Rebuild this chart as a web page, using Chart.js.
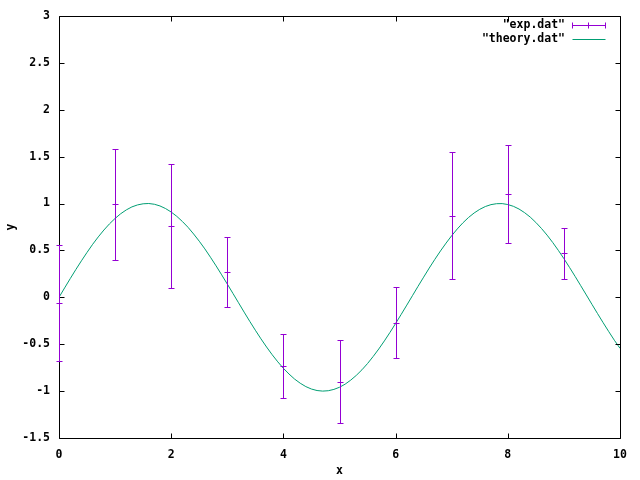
<!DOCTYPE html>
<html>
<head>
<meta charset="utf-8">
<script src="https://cdn.jsdelivr.net/npm/chart.js@4"></script>
<style>
html,body{margin:0;padding:0;background:#fff;}
canvas{display:block;}
</style>
</head>
<body>
<canvas id="c" width="640" height="480"></canvas>
<script>
// experimental data with error bars
const expX   = [0, 1, 2, 3, 4, 5, 6, 7, 8, 9];
const expY   = [-0.06, 0.99, 0.76, 0.27, -0.73, -0.90, -0.27, 0.87, 1.10, 0.47];
const expErr = [0.62, 0.59, 0.66, 0.37, 0.34, 0.44, 0.38, 0.68, 0.52, 0.27];

// theory curve
const theoryX = [0.0,0.1,0.2,0.3,0.4,0.5,0.6,0.7,0.8,0.9,1.0,1.1,1.2,1.3,1.4,1.5,1.6,1.7,1.8,1.9,
  2.0,2.1,2.2,2.3,2.4,2.5,2.6,2.7,2.8,2.9,3.0,3.1,3.2,3.3,3.4,3.5,3.6,3.7,3.8,3.9,
  4.0,4.1,4.2,4.3,4.4,4.5,4.6,4.7,4.8,4.9,5.0,5.1,5.2,5.3,5.4,5.5,5.6,5.7,5.8,5.9,
  6.0,6.1,6.2,6.3,6.4,6.5,6.6,6.7,6.8,6.9,7.0,7.1,7.2,7.3,7.4,7.5,7.6,7.7,7.8,7.9,
  8.0,8.1,8.2,8.3,8.4,8.5,8.6,8.7,8.8,8.9,9.0,9.1,9.2,9.3,9.4,9.5,9.6,9.7,9.8,9.9,10.0];
const theoryY = [0.000,0.100,0.199,0.296,0.389,0.479,0.565,0.644,0.717,0.783,
  0.841,0.891,0.932,0.964,0.985,0.997,1.000,0.992,0.974,0.946,
  0.909,0.863,0.808,0.746,0.675,0.598,0.516,0.427,0.335,0.239,
  0.141,0.042,-0.058,-0.158,-0.256,-0.351,-0.443,-0.530,-0.612,-0.688,
  -0.757,-0.818,-0.872,-0.916,-0.952,-0.978,-0.994,-1.000,-0.996,-0.982,
  -0.959,-0.926,-0.883,-0.832,-0.773,-0.706,-0.631,-0.551,-0.465,-0.374,
  -0.279,-0.182,-0.083,0.017,0.117,0.215,0.312,0.405,0.494,0.578,
  0.657,0.729,0.794,0.851,0.899,0.938,0.968,0.988,0.998,0.999,
  0.989,0.970,0.941,0.902,0.855,0.798,0.734,0.663,0.585,0.501,
  0.412,0.319,0.223,0.124,0.025,-0.075,-0.174,-0.271,-0.366,-0.458,-0.544];

const seriesNames = ['"exp.dat"', '"theory.dat"'];
const xTicks = [0, 2, 4, 6, 8, 10];
const yTicks = [-1.5, -1, -0.5, 0, 0.5, 1, 1.5, 2, 2.5, 3];

const PURPLE = '#9400d3';
const GREEN = '#009e73';
const FONT = 'bold 11.5px "DejaVu Sans Mono", "Liberation Mono", monospace';
const TFONT = {family: '"DejaVu Sans Mono", monospace', size: 11.5, weight: 'bold'};

const gnuplotDecor = {
  id: 'gnuplotDecor',
  afterDatasetsDraw(chart) {
    const ctx = chart.ctx;
    const xs = chart.scales.x, ys = chart.scales.y;
    const a = chart.chartArea;
    ctx.save();
    // border + inward ticks
    ctx.strokeStyle = '#000';
    ctx.lineWidth = 1;
    ctx.beginPath();
    const L = Math.round(a.left) + 0.5, R = Math.round(a.right) + 0.5;
    const T = Math.round(a.top) + 0.5, B = Math.round(a.bottom) + 0.5;
    ctx.rect(L, T, R - L, B - T);
    const tl = 5;
    yTicks.forEach(v => {
      const p = Math.round(ys.getPixelForValue(v)) + 0.5;
      ctx.moveTo(L, p); ctx.lineTo(L + tl, p);
      ctx.moveTo(R, p); ctx.lineTo(R - tl, p);
    });
    xTicks.forEach(v => {
      const p = Math.round(xs.getPixelForValue(v)) + 0.5;
      ctx.moveTo(p, B); ctx.lineTo(p, B - tl);
      ctx.moveTo(p, T); ctx.lineTo(p, T + tl);
    });
    ctx.stroke();

    // error bars
    ctx.strokeStyle = PURPLE;
    ctx.beginPath();
    for (let i = 0; i < expX.length; i++) {
      const px = Math.round(xs.getPixelForValue(expX[i])) + 0.5;
      const pt = Math.round(ys.getPixelForValue(expY[i] + expErr[i])) + 0.5;
      const pc = Math.round(ys.getPixelForValue(expY[i])) + 0.5;
      const pb = Math.round(ys.getPixelForValue(expY[i] - expErr[i])) + 0.5;
      ctx.moveTo(px, pt); ctx.lineTo(px, pb);
      ctx.moveTo(px - 3, pt); ctx.lineTo(px + 3, pt);
      ctx.moveTo(px - 3, pb); ctx.lineTo(px + 3, pb);
      ctx.moveTo(px - 3, pc); ctx.lineTo(px + 3, pc);
    }
    ctx.stroke();

    // legend
    ctx.font = FONT;
    ctx.fillStyle = '#000';
    ctx.textAlign = 'right';
    ctx.textBaseline = 'middle';
    const tx = 565, s0 = 572.5, s1 = 605.5;
    const y1 = 25.5, y2 = 39.5;
    ctx.fillText(seriesNames[0], tx, y1);
    ctx.fillText(seriesNames[1], tx, y2);
    ctx.strokeStyle = PURPLE;
    ctx.beginPath();
    ctx.moveTo(s0, y1); ctx.lineTo(s1, y1);
    ctx.moveTo(s0, y1 - 3); ctx.lineTo(s0, y1 + 3);
    ctx.moveTo(s1, y1 - 3); ctx.lineTo(s1, y1 + 3);
    ctx.moveTo(588.5, y1 - 3); ctx.lineTo(588.5, y1 + 3);
    ctx.stroke();
    ctx.strokeStyle = GREEN;
    ctx.beginPath();
    ctx.moveTo(s0, y2); ctx.lineTo(s1, y2);
    ctx.stroke();
    ctx.restore();
  }
};

new Chart(document.getElementById('c'), {
  type: 'scatter',
  data: {
    datasets: [
      {
        label: seriesNames[0],
        data: expX.map((x, i) => ({x: x, y: expY[i]})),
        pointRadius: 0,
        showLine: false,
        borderColor: PURPLE,
        backgroundColor: PURPLE
      },
      {
        label: seriesNames[1],
        data: theoryX.map((x, i) => ({x: x, y: theoryY[i]})),
        showLine: true,
        pointRadius: 0,
        borderColor: GREEN,
        borderWidth: 1,
        tension: 0,
        fill: false
      }
    ]
  },
  options: {
    responsive: false,
    animation: false,
    events: [],
    layout: {padding: {left: 0, right: 20, top: 15, bottom: 0}},
    plugins: {legend: {display: false}, tooltip: {enabled: false}},
    scales: {
      x: {
        type: 'linear', min: 0, max: 10,
        afterFit(s) { s.height = 42; },
        afterBuildTicks(s) { s.ticks = xTicks.map(v => ({value: v})); },
        grid: {display: false, drawTicks: false},
        border: {display: false},
        ticks: {color: '#000', font: TFONT, padding: 10, maxRotation: 0, callback: v => String(v)},
        title: {display: true, text: 'x', color: '#000', font: TFONT, padding: {top: 0, bottom: 2}}
      },
      y: {
        type: 'linear', min: -1.5, max: 3,
        afterFit(s) { s.width = 59; },
        afterBuildTicks(s) { s.ticks = yTicks.map(v => ({value: v})); },
        grid: {display: false, drawTicks: false},
        border: {display: false},
        ticks: {color: '#000', font: TFONT, padding: 9, callback: v => String(v)},
        title: {display: true, text: 'y', color: '#000', font: TFONT, padding: {top: 4, bottom: 0}}
      }
    }
  },
  plugins: [gnuplotDecor]
});
</script>
</body>
</html>
